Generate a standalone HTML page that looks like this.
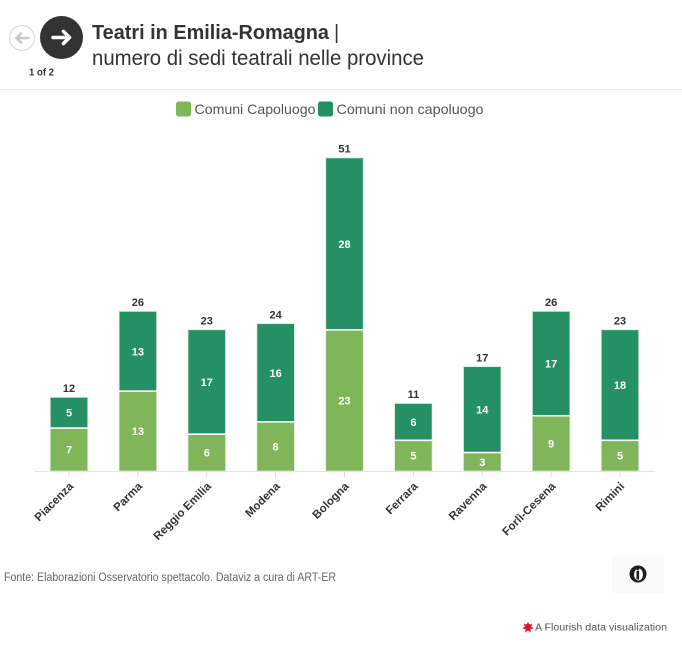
<!DOCTYPE html>
<html><head><meta charset="utf-8"><style>
html,body{margin:0;padding:0;background:#fff;}
svg{display:block;}
text{font-family:"Liberation Sans",sans-serif;}
</style></head><body>
<svg width="682" height="665" viewBox="0 0 682 665" xmlns="http://www.w3.org/2000/svg">
<rect width="682" height="665" fill="#fff"/>
<!-- header buttons -->
<circle cx="22" cy="38" r="12.5" fill="#fff" stroke="#dcdcdc" stroke-width="1.2"/>
<path d="M28.5 38 H16.5 M21 33.5 L16.5 38 L21 42.5" fill="none" stroke="#c8c8c8" stroke-width="2.6" stroke-linecap="round" stroke-linejoin="round"/>
<circle cx="61.5" cy="37.5" r="21.5" fill="#333"/>
<path d="M53 37.5 H69 M63.5 31.5 L69.5 37.5 L63.5 43.5" fill="none" stroke="#fff" stroke-width="3.6" stroke-linecap="round" stroke-linejoin="round"/>
<text x="29" y="75.5" font-size="10" font-weight="bold" fill="#333" textLength="25" lengthAdjust="spacingAndGlyphs">1 of 2</text>
<!-- title -->
<text x="92" y="39" font-size="20" font-weight="bold" fill="#333" textLength="237" lengthAdjust="spacingAndGlyphs">Teatri in Emilia-Romagna</text>
<text x="334" y="39" font-size="20" fill="#333">|</text>
<text x="92" y="65" font-size="21" fill="#333" textLength="332" lengthAdjust="spacingAndGlyphs">numero di sedi teatrali nelle province</text>
<line x1="0" y1="89.5" x2="682" y2="89.5" stroke="#e8e8e8" stroke-width="1"/>
<!-- legend -->
<rect x="176" y="101.5" width="15" height="15" rx="2.5" fill="#80b55a"/>
<text x="194.5" y="114" font-size="14" fill="#555" textLength="121" lengthAdjust="spacingAndGlyphs">Comuni Capoluogo</text>
<rect x="318" y="101.5" width="15" height="15" rx="2.5" fill="#259063"/>
<text x="336.5" y="114" font-size="14" fill="#555" textLength="147" lengthAdjust="spacingAndGlyphs">Comuni non capoluogo</text>
<!-- axis -->
<line x1="34" y1="471.5" x2="655" y2="471.5" stroke="#e4e4e4" stroke-width="1"/>
<g stroke="#dcdcdc" stroke-width="1">
<line x1="69" y1="472" x2="69" y2="477"/>
<line x1="137.9" y1="472" x2="137.9" y2="477"/>
<line x1="206.75" y1="472" x2="206.75" y2="477"/>
<line x1="275.6" y1="472" x2="275.6" y2="477"/>
<line x1="344.5" y1="472" x2="344.5" y2="477"/>
<line x1="413.4" y1="472" x2="413.4" y2="477"/>
<line x1="482.25" y1="472" x2="482.25" y2="477"/>
<line x1="551.1" y1="472" x2="551.1" y2="477"/>
<line x1="620" y1="472" x2="620" y2="477"/>
</g>
<!-- bars -->
<g stroke="#d8ecd8" stroke-width="0.8">
<rect x="50.25" y="428.02" width="37.5" height="42.98" fill="#80b55a"/>
<rect x="50.25" y="397.32" width="37.5" height="30.7" fill="#259063"/>
<rect x="119.1" y="391.18" width="37.5" height="79.82" fill="#80b55a"/>
<rect x="119.1" y="311.36" width="37.5" height="79.82" fill="#259063"/>
<rect x="188" y="434.16" width="37.5" height="36.84" fill="#80b55a"/>
<rect x="188" y="329.78" width="37.5" height="104.38" fill="#259063"/>
<rect x="256.9" y="421.88" width="37.5" height="49.12" fill="#80b55a"/>
<rect x="256.9" y="323.64" width="37.5" height="98.24" fill="#259063"/>
<rect x="325.75" y="329.78" width="37.5" height="141.22" fill="#80b55a"/>
<rect x="325.75" y="157.86" width="37.5" height="171.92" fill="#259063"/>
<rect x="394.6" y="440.3" width="37.5" height="30.7" fill="#80b55a"/>
<rect x="394.6" y="403.46" width="37.5" height="36.84" fill="#259063"/>
<rect x="463.5" y="452.58" width="37.5" height="18.42" fill="#80b55a"/>
<rect x="463.5" y="366.62" width="37.5" height="85.96" fill="#259063"/>
<rect x="532.4" y="415.74" width="37.5" height="55.26" fill="#80b55a"/>
<rect x="532.4" y="311.36" width="37.5" height="104.38" fill="#259063"/>
<rect x="601.25" y="440.3" width="37.5" height="30.7" fill="#80b55a"/>
<rect x="601.25" y="329.78" width="37.5" height="110.52" fill="#259063"/>
</g>
<g stroke="#fff" stroke-width="1.6">
<line x1="50.25" y1="428.02" x2="87.75" y2="428.02"/>
<line x1="119.1" y1="391.18" x2="156.6" y2="391.18"/>
<line x1="188" y1="434.16" x2="225.5" y2="434.16"/>
<line x1="256.9" y1="421.88" x2="294.4" y2="421.88"/>
<line x1="325.75" y1="329.78" x2="363.25" y2="329.78"/>
<line x1="394.6" y1="440.3" x2="432.1" y2="440.3"/>
<line x1="463.5" y1="452.58" x2="501" y2="452.58"/>
<line x1="532.4" y1="415.74" x2="569.9" y2="415.74"/>
<line x1="601.25" y1="440.3" x2="638.75" y2="440.3"/>
</g>
<!-- inside labels -->
<g font-size="11" font-weight="bold" fill="#fff" text-anchor="middle">
<text x="69" y="453.5">7</text><text x="69" y="416.7">5</text>
<text x="137.9" y="435.1">13</text><text x="137.9" y="355.3">13</text>
<text x="206.75" y="456.6">6</text><text x="206.75" y="386">17</text>
<text x="275.6" y="450.4">8</text><text x="275.6" y="376.8">16</text>
<text x="344.5" y="404.4">23</text><text x="344.5" y="247.8">28</text>
<text x="413.4" y="459.6">5</text><text x="413.4" y="425.9">6</text>
<text x="482.25" y="465.8">3</text><text x="482.25" y="413.6">14</text>
<text x="551.1" y="447.4">9</text><text x="551.1" y="367.6">17</text>
<text x="620" y="459.6">5</text><text x="620" y="389">18</text>
</g>
<!-- totals -->
<g font-size="11" font-weight="bold" fill="#333" text-anchor="middle">
<text x="69" y="392">12</text>
<text x="137.9" y="306">26</text>
<text x="206.75" y="324.5">23</text>
<text x="275.6" y="318.5">24</text>
<text x="344.5" y="152.5">51</text>
<text x="413.4" y="398">11</text>
<text x="482.25" y="361.5">17</text>
<text x="551.1" y="306">26</text>
<text x="620" y="324.5">23</text>
</g>
<!-- x labels -->
<g font-size="11.5" font-weight="bold" fill="#333" text-anchor="end">
<text transform="translate(74,487) rotate(-45)">Piacenza</text>
<text transform="translate(142.9,487) rotate(-45)">Parma</text>
<text transform="translate(211.75,487) rotate(-45)">Reggio Emilia</text>
<text transform="translate(280.6,487) rotate(-45)">Modena</text>
<text transform="translate(349.5,487) rotate(-45)">Bologna</text>
<text transform="translate(418.4,487) rotate(-45)">Ferrara</text>
<text transform="translate(487.25,487) rotate(-45)">Ravenna</text>
<text transform="translate(556.1,487) rotate(-45)">Forlì-Cesena</text>
<text transform="translate(625,487) rotate(-45)">Rimini</text>
</g>
<!-- footer -->
<text x="4" y="581" font-size="11.5" fill="#666" textLength="332" lengthAdjust="spacingAndGlyphs">Fonte: Elaborazioni Osservatorio spettacolo. Dataviz a cura di ART-ER</text>
<rect x="612" y="555" width="52" height="38" fill="#fafafa"/>
<circle cx="638" cy="574" r="8.5" fill="#1e1e1e"/>
<ellipse cx="638.5" cy="574.5" rx="4.5" ry="6" fill="#fff"/>
<rect x="636.5" y="571" width="2.6" height="8.5" fill="#1e1e1e"/>
<circle cx="637.8" cy="569" r="1.4" fill="#1e1e1e"/>
<!-- flourish -->
<polygon points="528,621.5 529.2,624.8 532.6,623.5 531,626.5 533.8,628.5 530.4,629 530.8,632.5 528,630.4 525.2,632.5 525.6,629 522.2,628.5 525,626.5 523.4,623.5 526.8,624.8" fill="#d7182a"/>
<circle cx="528" cy="627" r="3.2" fill="#d7182a"/>
<text x="535" y="630.5" font-size="10" fill="#555" textLength="132" lengthAdjust="spacingAndGlyphs">A Flourish data visualization</text>
</svg>
</body></html>
